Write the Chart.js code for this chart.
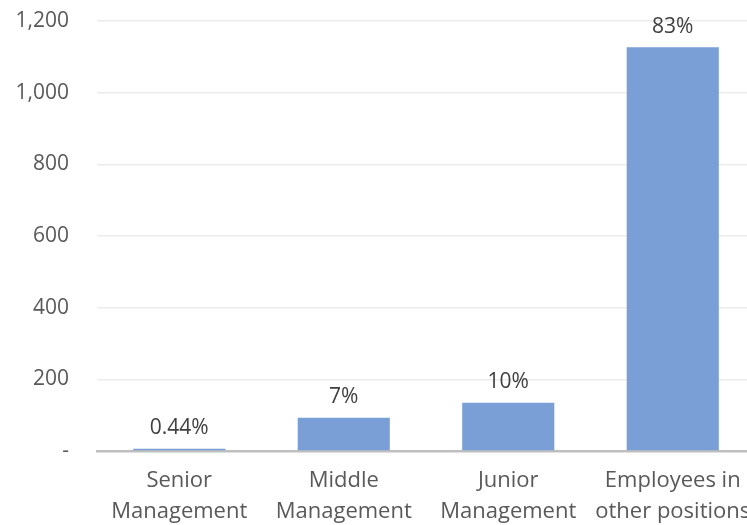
<!DOCTYPE html>
<html>
<head>
<meta charset="utf-8">
<script src="https://cdn.jsdelivr.net/npm/chart.js@4"></script>
<style>
  html, body { margin: 0; padding: 0; background: #fff; overflow: hidden; }
  #wrap { width: 747px; height: 525px; overflow: hidden; }
</style>
</head>
<body>
<div id="wrap"><canvas id="chart" width="755" height="525"></canvas></div>
<script>
const categories = [["Senior", "Management"], ["Middle", "Management"], ["Junior", "Management"], ["Employees in", "other positions"]];
const headcount = [6, 93, 135, 1127];
const shareLabels = ["0.44%", "7%", "10%", "83%"];
const yTicks = [0, 200, 400, 600, 800, 1000, 1200];

const fontFamily = "'Open Sans', 'Noto Sans', sans-serif";

// draws the % text above each bar
const barLabels = {
  id: "barLabels",
  afterDatasetsDraw(chart) {
    const ctx = chart.ctx;
    const meta = chart.getDatasetMeta(0);
    ctx.save();
    ctx.font = "21px " + fontFamily;
    ctx.fillStyle = "#404040";
    ctx.textAlign = "center";
    ctx.textBaseline = "bottom";
    meta.data.forEach((bar, i) => {
      ctx.fillText(shareLabels[i], bar.x, bar.y - 10);
    });
    ctx.restore();
  }
};

const noPad = (axis) => {
  axis.paddingTop = 0;
  axis.paddingBottom = 0;
  axis.paddingLeft = 0;
  axis.paddingRight = 0;
};

const mycharts = document.querySelector("#chart");
const myChart = new Chart(mycharts, {
  type: "bar",
  data: {
    labels: categories,
    datasets: [
      {
        data: headcount,
        backgroundColor: "#7A9ED6",
        categoryPercentage: 1,
        barPercentage: 0.56,
      },
    ],
  },
  options: {
    responsive: false,
    animation: false,
    layout: { padding: { top: 21, right: 0, bottom: 0, left: 1 } },
    plugins: {
      legend: { display: false },
      tooltip: { enabled: false },
    },
    scales: {
      x: {
        grid: { display: false, drawTicks: false },
        border: { color: "#BFBFBF", width: 2.5 },
        ticks: {
          color: "#595959",
          font: { family: fontFamily, size: 22, lineHeight: 1.38 },
          padding: 15,
          maxRotation: 0,
          autoSkip: false,
        },
        afterFit: (axis) => {
          axis.height = 74;
          noPad(axis);
        },
      },
      y: {
        min: 0,
        max: 1200,
        afterBuildTicks: (axis) => { axis.ticks = yTicks.map((v) => ({ value: v })); },
        grid: { color: "#EBEBEB", lineWidth: 1.5, drawTicks: false },
        border: { display: false },
        ticks: {
          color: "#595959",
          font: { family: fontFamily, size: 21 },
          padding: 28,
          callback: (v) => (v === 0 ? "-" : v.toLocaleString("en-US")),
        },
        afterFit: (axis) => {
          axis.width = 96;
          noPad(axis);
        },
      },
    },
  },
  plugins: [barLabels],
});
</script>
</body>
</html>
